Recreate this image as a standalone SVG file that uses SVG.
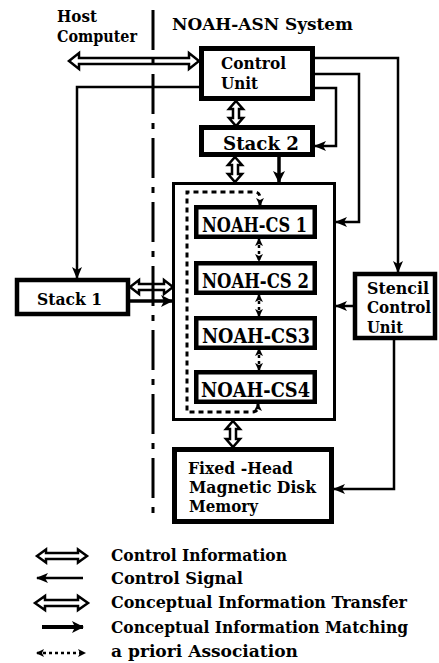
<svg xmlns="http://www.w3.org/2000/svg" width="439" height="663" viewBox="0 0 439 663">
<style>
text{font-family:"DejaVu Serif","Liberation Serif",serif;font-weight:bold;fill:#000}
.box{fill:#fff;stroke:#000}
.sig{fill:none;stroke:#000;stroke-width:2.5}
.dbl{fill:#fff;stroke:#000;stroke-width:2.5;stroke-linejoin:miter}
.thick{fill:none;stroke:#000;stroke-width:3.5}
.ap{fill:none;stroke:#000;stroke-width:3;stroke-dasharray:5 4}
.apl{fill:none;stroke:#000;stroke-width:2.5;stroke-dasharray:3 3}
</style>
<defs>
<marker id="sig" viewBox="0 0 12 10" refX="11" refY="5" markerWidth="12" markerHeight="10" orient="auto" markerUnits="userSpaceOnUse"><path d="M0,0 L12,5 L0,10 L3,5 z"/></marker>
<marker id="big" viewBox="0 0 12 12" refX="11" refY="6" markerWidth="12" markerHeight="12" orient="auto" markerUnits="userSpaceOnUse"><path d="M0,0 L12,6 L0,12 L3,6 z"/></marker>
<marker id="ap" viewBox="0 0 8 8" refX="7" refY="4" markerWidth="8" markerHeight="8" orient="auto-start-reverse" markerUnits="userSpaceOnUse"><path d="M0,0 L8,4 L0,8 L2,4 z"/></marker>
</defs>

<text x="57" y="22" font-size="16" textLength="40" lengthAdjust="spacingAndGlyphs">Host</text>
<text x="57" y="42" font-size="16" textLength="80" lengthAdjust="spacingAndGlyphs">Computer</text>
<text x="172" y="30" font-size="17" textLength="181" lengthAdjust="spacingAndGlyphs">NOAH-ASN System</text>

<g id="control-unit">
<rect class="box" x="201.5" y="48.5" width="111" height="50" stroke-width="5"/>
<text x="221" y="69" font-size="17" textLength="65" lengthAdjust="spacingAndGlyphs">Control</text>
<text x="221" y="89" font-size="17" textLength="37" lengthAdjust="spacingAndGlyphs">Unit</text>
</g>
<g id="stack2">
<rect class="box" x="201.5" y="127.5" width="111" height="27" stroke-width="5"/>
<text x="223" y="150" font-size="18" textLength="76" lengthAdjust="spacingAndGlyphs">Stack 2</text>
</g>
<g id="asn-box">
<rect class="box" x="173.5" y="183.5" width="161" height="236" stroke-width="3"/>
</g>
<g id="cs1">
<rect class="box" x="196.25" y="207.25" width="118.5" height="29.5" stroke-width="4.5"/>
<text x="202" y="232" font-size="20" textLength="105" lengthAdjust="spacingAndGlyphs">NOAH-CS 1</text>
</g>
<g id="cs2">
<rect class="box" x="196.25" y="263.25" width="118.5" height="29.5" stroke-width="4.5"/>
<text x="202" y="288" font-size="20" textLength="107" lengthAdjust="spacingAndGlyphs">NOAH-CS 2</text>
</g>
<g id="cs3">
<rect class="box" x="196.25" y="318.25" width="118.5" height="29.5" stroke-width="4.5"/>
<text x="202" y="343" font-size="20" textLength="108" lengthAdjust="spacingAndGlyphs">NOAH-CS3</text>
</g>
<g id="cs4">
<rect class="box" x="196.25" y="372.25" width="118.5" height="29.5" stroke-width="4.5"/>
<text x="201" y="397" font-size="20" textLength="109" lengthAdjust="spacingAndGlyphs">NOAH-CS4</text>
</g>
<g id="stack1">
<rect class="box" x="17" y="280" width="111" height="34" stroke-width="4.5"/>
<text x="37" y="305" font-size="17" textLength="65" lengthAdjust="spacingAndGlyphs">Stack 1</text>
</g>
<g id="stencil">
<rect class="box" x="355" y="274" width="80" height="64" stroke-width="4.5"/>
<text x="367" y="294" font-size="16" textLength="62" lengthAdjust="spacingAndGlyphs">Stencil</text>
<text x="367" y="313" font-size="16" textLength="64" lengthAdjust="spacingAndGlyphs">Control</text>
<text x="367" y="333" font-size="16" textLength="36" lengthAdjust="spacingAndGlyphs">Unit</text>
</g>
<g id="disk">
<rect class="box" x="174.5" y="449.5" width="157" height="72" stroke-width="5"/>
<text x="188" y="474" font-size="17" textLength="105" lengthAdjust="spacingAndGlyphs">Fixed -Head</text>
<text x="189" y="493" font-size="17" textLength="127" lengthAdjust="spacingAndGlyphs">Magnetic Disk</text>
<text x="189" y="512" font-size="17" textLength="69" lengthAdjust="spacingAndGlyphs">Memory</text>
</g>

<g id="connectors">
<polygon class="dbl" stroke-width="2" points="69,61 79,53 79,58 189,58 189,53 199,61 189,69 189,64 79,64 79,69"/>
<polygon class="dbl" points="236,101 243,109 239,109 239,118 243,118 236,126 229,118 233,118 233,109 229,109"/>
<polygon class="dbl" points="235,157 242,165 238,165 238,174 242,174 235,182 228,174 232,174 232,165 228,165"/>
<polygon class="dbl" points="233,421 240,429 236,429 236,439 240,439 233,447 226,439 230,439 230,429 226,429"/>
<polygon class="dbl" points="130,287 139,280 139,284 164,284 164,280 173,287 164,294 164,290 139,290 139,294"/>
<path class="thick" d="M279,157 L279,182" marker-end="url(#big)"/>
<path class="thick" d="M130,301 L172,301" marker-end="url(#big)"/>
<path class="sig" d="M199,87 L77,87 L77,278" marker-end="url(#sig)"/>
<path class="sig" d="M315,58 L398,58 L398,272" marker-end="url(#sig)"/>
<path class="sig" d="M315,74 L359,74 L359,222 L336,222" marker-end="url(#sig)"/>
<path class="sig" d="M315,88 L336,88 L336,146 L315,146" marker-end="url(#sig)"/>
<path class="sig" d="M353,306 L336,306" marker-end="url(#sig)"/>
<path class="sig" d="M394,340 L394,489 L334,489" marker-end="url(#sig)"/>
<path class="ap" d="M260,205 L260,198 Q260,192 254,192 L187,192 L187,412 L252,412 Q258,412 258,407 L258,404" marker-start="url(#ap)" marker-end="url(#ap)"/>
<path class="apl" d="M259,239 L259,261" marker-start="url(#ap)" marker-end="url(#ap)"/>
<path class="apl" d="M259,295 L259,316" marker-start="url(#ap)" marker-end="url(#ap)"/>
<path class="apl" d="M259,349 L259,370" marker-start="url(#ap)" marker-end="url(#ap)"/>
</g>

<!-- separator -->
<line x1="153" y1="10" x2="153" y2="514" stroke="#000" stroke-width="3" stroke-dasharray="40 9 6 9"/>

<g id="legend">
<polygon class="dbl" stroke-width="2" points="37,556 46,549.5 46,553 78,553 78,549.5 87,556 78,562.5 78,559 46,559 46,562.5"/>
<path class="sig" d="M83,578 L37,578" marker-end="url(#sig)"/>
<polygon class="dbl" stroke-width="3" points="35,603 45,596 45,600 78,600 78,596 88,603 78,610 78,606 45,606 45,610"/>
<path fill="none" stroke="#000" stroke-width="4" d="M42,627 L83,627" marker-end="url(#big)"/>
<path class="apl" d="M37,653 L85,653" marker-start="url(#ap)" marker-end="url(#ap)"/>
<text x="111" y="561" font-size="16" textLength="176" lengthAdjust="spacingAndGlyphs">Control Information</text>
<text x="111" y="584" font-size="16" textLength="132" lengthAdjust="spacingAndGlyphs">Control Signal</text>
<text x="111" y="608" font-size="16" textLength="296" lengthAdjust="spacingAndGlyphs">Conceptual Information Transfer</text>
<text x="111" y="633" font-size="16" textLength="297" lengthAdjust="spacingAndGlyphs">Conceptual Information Matching</text>
<text x="111" y="657" font-size="16" textLength="187" lengthAdjust="spacingAndGlyphs">a priori Association</text>
</g>
</svg>
